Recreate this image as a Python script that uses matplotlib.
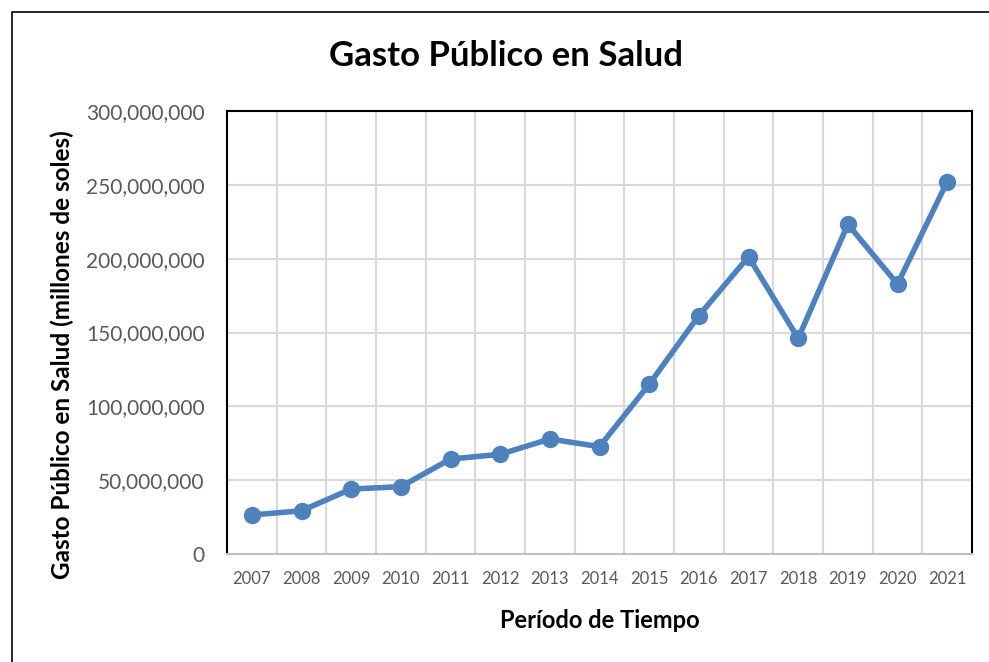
import matplotlib
matplotlib.use("Agg")
import matplotlib.pyplot as plt
from matplotlib.patches import Rectangle
from matplotlib.ticker import FuncFormatter, MultipleLocator, FixedLocator

years = ["2007", "2008", "2009", "2010", "2011", "2012", "2013", "2014",
         "2015", "2016", "2017", "2018", "2019", "2020", "2021"]
gasto = [26.4e6, 29.3e6, 44.0e6, 45.6e6, 64.3e6, 67.5e6, 77.9e6, 72.7e6,
         114.9e6, 161.4e6, 201.3e6, 146.0e6, 223.3e6, 182.8e6, 252.1e6]

title = "Gasto Público en Salud"
ylabel = "Gasto Público en Salud (millones de soles)"
xlabel = "Período de Tiempo"

plt.rcParams['font.family'] = ['Lato', 'DejaVu Sans']

W, H = 989, 662
fig = plt.figure(figsize=(W / 100, H / 100), dpi=100)
fig.patches.append(Rectangle((12 / W, -0.1), 1.1, 1 - 12 / H + 0.1,
                             transform=fig.transFigure, fill=False,
                             edgecolor="#000000", linewidth=1.2))

ax = fig.add_axes([227 / W, 1 - 554 / H, (972 - 227) / W, (554 - 111) / H])
x = list(range(len(years)))
ax.plot(x, gasto, color="#4F81BD", linewidth=4.0, marker="o",
        markersize=11.5, solid_capstyle="round", zorder=3)

ax.set_xlim(-0.5, len(years) - 0.5)
ax.set_ylim(0, 300e6)
ax.yaxis.set_major_locator(MultipleLocator(50e6))
ax.yaxis.set_major_formatter(FuncFormatter(lambda v, p: f"{int(v):,}"))
ax.set_xticks(x)
ax.set_xticklabels(years)
ax.xaxis.set_minor_locator(FixedLocator([i + 0.5 for i in range(len(years) - 1)]))
ax.grid(axis="y", which="major", color="#D9D9D9", linewidth=1.5)
ax.grid(axis="x", which="minor", color="#D9D9D9", linewidth=1.5)
ax.set_axisbelow(True)
ax.tick_params(axis="both", which="both", length=0)
ax.tick_params(axis="y", labelsize=15, labelcolor="#595959", pad=16)
ax.tick_params(axis="x", labelsize=12, labelcolor="#595959", pad=12)
for s in ["left", "top", "right"]:
    ax.spines[s].set_color("#000000")
    ax.spines[s].set_linewidth(1.5)
ax.spines["bottom"].set_color("#BFBFBF")
ax.spines["bottom"].set_linewidth(1.5)

fig.text(506 / W, 1 - 56 / H, title, ha="center", va="center",
         fontsize=25, fontweight="bold", color="#000000")
fig.text(62 / W, 1 - 355 / H, ylabel, ha="center", va="center",
         rotation=90, fontsize=17.5, fontweight="bold", color="#000000")
fig.text(600 / W, 1 - 620 / H, xlabel, ha="center", va="center",
         fontsize=17, fontweight="bold", color="#000000")

fig.savefig("out.png", dpi=100)
